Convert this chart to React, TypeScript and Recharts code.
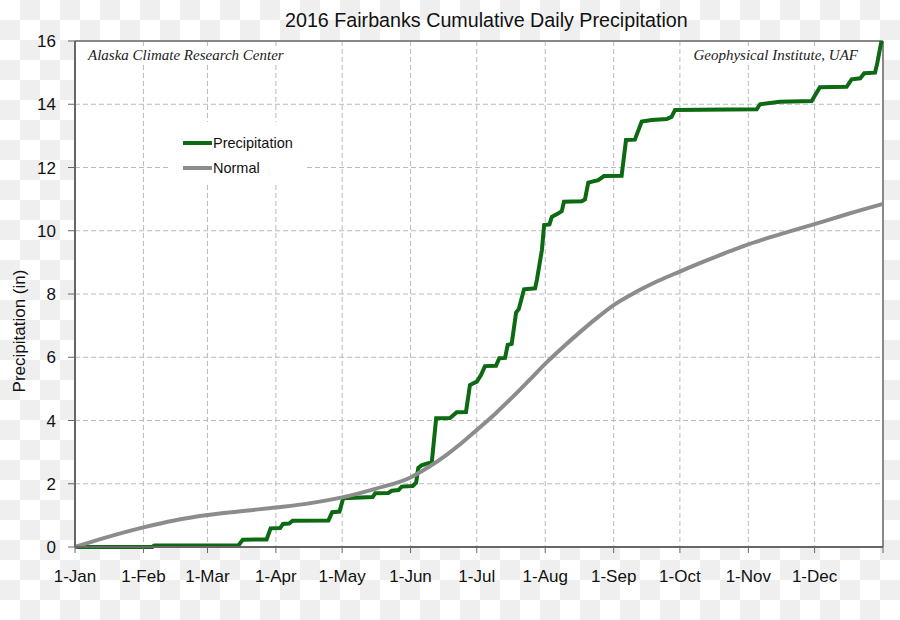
import {
  CartesianGrid,
  Legend,
  Line,
  LineChart,
  ReferenceLine,
  XAxis,
  YAxis,
} from "recharts";

// cumulative 2016 precipitation, day of year -> inches
const precipDays = [
  0, 35, 36, 74, 76, 86.8, 88.6, 92.9, 94.2, 97, 98.6, 114.8, 116.5, 119.8,
  121.5, 134.8, 136, 141.9, 143.5, 146.5, 148, 153, 154.5, 155.5, 157, 160,
  161.6, 163.6, 169.9, 172.9, 177.1, 178.9, 182, 183.9, 185.7, 190.7, 192.2,
  194.8, 196, 197.8, 199.8, 201, 203.4, 208.4, 209.2, 211.5, 212.5, 214.9, 216,
  219, 220.5, 221.5, 229.5, 231, 232.5, 237, 239.6, 247.6, 249.6, 253.6, 256.7,
  261.2, 268, 270.2, 271.8, 308.8, 310.3, 319.3, 333.7, 337.4, 349.5, 351.8,
  355.7, 357.5, 362.4, 363.4, 365.3,
];
const precipValues = [
  0, 0, 0.05, 0.05, 0.23, 0.24, 0.59, 0.6, 0.73, 0.74, 0.83, 0.84, 1.1, 1.12,
  1.54, 1.58, 1.7, 1.71, 1.78, 1.8, 1.91, 1.93, 2.03, 2.5, 2.58, 2.65, 2.67,
  4.07, 4.08, 4.26, 4.27, 5.12, 5.23, 5.44, 5.72, 5.73, 5.97, 5.98, 6.39, 6.42,
  7.41, 7.52, 8.15, 8.18, 8.44, 9.39, 10.18, 10.2, 10.44, 10.55, 10.62, 10.92,
  10.93, 10.99, 11.52, 11.6, 11.73, 11.74, 12.87, 12.88, 13.45, 13.5, 13.53,
  13.6, 13.82, 13.84, 14.0, 14.08, 14.1, 14.54, 14.55, 14.79, 14.82, 14.98, 15.0,
  15.3, 16.0,
];

// normal cumulative precipitation
const normalDays = [
  0, 15, 31, 45, 60, 75, 91, 106, 121, 136, 152, 160, 168, 175, 182, 190, 197,
  205, 214, 222, 229, 236, 244, 254, 264, 274, 285, 297, 305, 320, 335, 350, 366,
];
const normalValues = [
  0, 0.32, 0.62, 0.84, 1.01, 1.13, 1.25, 1.38, 1.57, 1.84, 2.2, 2.52, 2.9, 3.28,
  3.7, 4.19, 4.66, 5.22, 5.86, 6.38, 6.81, 7.22, 7.65, 8.06, 8.41, 8.71, 9.03,
  9.36, 9.57, 9.9, 10.21, 10.53, 10.85,
];

const monthTicks = [0, 31, 60, 91, 121, 152, 182, 213, 244, 274, 305, 335, 366];
const monthLabels = [
  "1-Jan", "1-Feb", "1-Mar", "1-Apr", "1-May", "1-Jun", "1-Jul", "1-Aug",
  "1-Sep", "1-Oct", "1-Nov", "1-Dec", "",
];
const yTicks = [0, 2, 4, 6, 8, 10, 12, 14, 16];
const seriesOrder = ["Precipitation", "Normal"];

const precipData = precipDays.map((d, i) => ({ d, v: precipValues[i] }));
const normalData = normalDays.map((d, i) => ({ d, v: normalValues[i] }));

const SANS = "'Liberation Sans', Arial, sans-serif";
const SERIF = "'Liberation Serif', 'Times New Roman', serif";

function LegendBox({ payload }: any) {
  const items = [...(payload || [])].sort(
    (a: any, b: any) => seriesOrder.indexOf(a.value) - seriesOrder.indexOf(b.value)
  );
  return (
    <div
      style={{
        background: "#fff",
        width: 139,
        height: 60,
        paddingTop: 8,
        boxSizing: "border-box",
      }}
    >
      {items.map((p: any) => (
        <div
          key={p.value}
          style={{ display: "flex", alignItems: "center", height: 25, paddingLeft: 15 }}
        >
          <span
            style={{ display: "inline-block", width: 29, height: 4, background: p.color }}
          />
          <span style={{ fontFamily: SANS, fontSize: 14.5, color: "#111", marginLeft: 1 }}>
            {p.value}
          </span>
        </div>
      ))}
    </div>
  );
}

const noteStyle = {
  position: "absolute" as const,
  top: 46,
  fontFamily: SERIF,
  fontStyle: "italic",
  fontSize: 15,
  color: "#222",
  background: "#fff",
  padding: "1px 2px",
  whiteSpace: "nowrap" as const,
};

export default function App() {
  return (
    <div
      style={{
        position: "absolute",
        left: 0,
        top: 0,
        width: 900,
        height: 620,
        backgroundColor: "#fff",
        backgroundImage: "repeating-conic-gradient(#efefef 0 25%, #fff 0 50%)",
        backgroundSize: "40px 40px",
      }}
    >
      <LineChart
        width={900}
        height={620}
        margin={{ top: 41, right: 17, bottom: 43, left: 0 }}
      >
        <CartesianGrid fill="#fff" stroke="#bbb" strokeDasharray="5 3" />
        <XAxis
          dataKey="d"
          type="number"
          domain={[0, 366]}
          ticks={monthTicks}
          interval={0}
          tickFormatter={(v: number) => monthLabels[monthTicks.indexOf(v)] ?? ""}
          height={30}
          tickSize={6}
          tickMargin={17}
          tick={{ fill: "#111", fontSize: 17, fontFamily: SANS }}
          axisLine={{ stroke: "#666", strokeWidth: 2 }}
          tickLine={{ stroke: "#666" }}
        />
        <YAxis
          type="number"
          domain={[0, 16]}
          ticks={yTicks}
          interval={0}
          width={75}
          tickSize={7}
          tickMargin={12}
          tick={{ fill: "#111", fontSize: 17, fontFamily: SANS }}
          axisLine={{ stroke: "#666", strokeWidth: 2 }}
          tickLine={{ stroke: "#666" }}
          label={{
            content: () => (
              <text
                x={25}
                y={331}
                transform="rotate(-90 25 331)"
                textAnchor="middle"
                fontFamily={SANS}
                fontSize={17}
                fill="#111"
              >
                Precipitation (in)
              </text>
            ),
          }}
        />
        <ReferenceLine y={16} stroke="#888" strokeWidth={2} />
        <ReferenceLine x={366} stroke="#888" strokeWidth={2} />
        <Legend
          layout="vertical"
          align="center"
          verticalAlign="middle"
          wrapperStyle={{ left: 168, top: 122, width: 139, height: 60 }}
          content={LegendBox}
        />
        <Line
          data={precipData}
          dataKey="v"
          name="Precipitation"
          type="linear"
          stroke="#0b6a12"
          strokeWidth={4}
          dot={false}
          activeDot={false}
          isAnimationActive={false}
        />
        <Line
          data={normalData}
          dataKey="v"
          name="Normal"
          type="monotone"
          stroke="#8c8c8c"
          strokeWidth={4}
          dot={false}
          activeDot={false}
          isAnimationActive={false}
        />
      </LineChart>
      <div
        style={{
          position: "absolute",
          left: 285,
          top: 9,
          fontFamily: SANS,
          fontSize: 19.7,
          color: "#111",
          whiteSpace: "nowrap",
        }}
      >
        2016 Fairbanks Cumulative Daily Precipitation
      </div>
      <div style={{ ...noteStyle, left: 86 }}>Alaska Climate Research Center</div>
      <div style={{ ...noteStyle, right: 40 }}>Geophysical Institute, UAF</div>
    </div>
  );
}
